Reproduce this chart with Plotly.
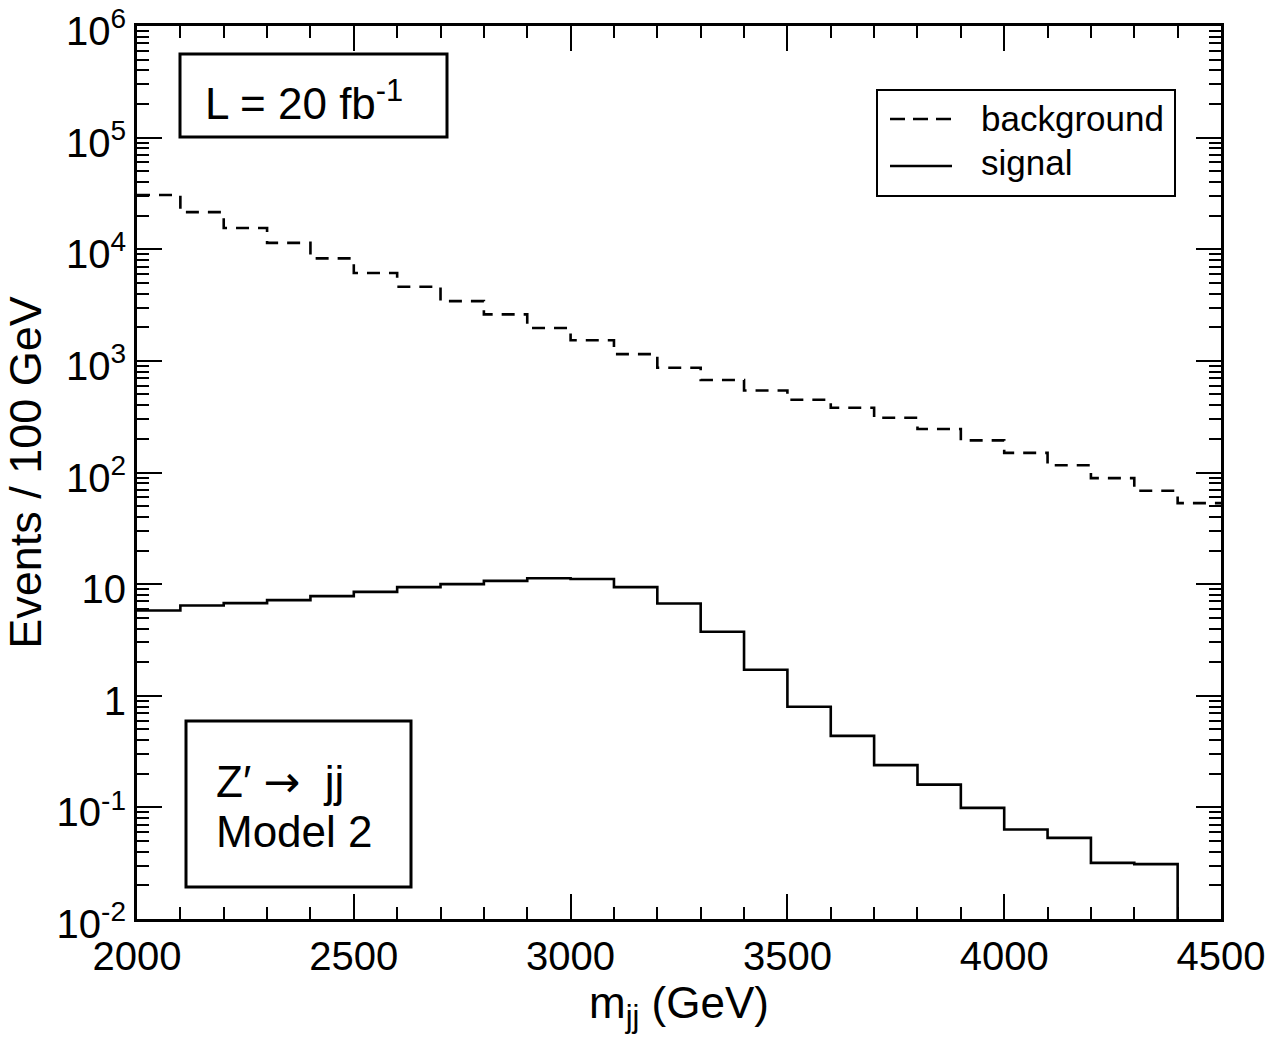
import plotly.graph_objects as go

# ---- data ----
bin_edges = list(range(2000, 4600, 100))  # 2000..4500
background = [30600, 21500, 15500, 11400, 8280, 6120, 4620, 3430, 2610, 1970,
              1530, 1150, 867, 673, 543, 449, 380, 309, 245, 194,
              150, 116, 89, 68.6, 53.2]
signal = [5.81, 6.44, 6.76, 7.19, 7.8, 8.53, 9.4, 10.0, 10.7, 11.3,
          11.1, 9.4, 6.7, 3.74, 1.71, 0.796, 0.437, 0.239, 0.160, 0.099,
          0.0634, 0.0533, 0.0318, 0.031, 0.0]
ytick_vals = [1e-2, 1e-1, 1, 10, 1e2, 1e3, 1e4, 1e5, 1e6]
ytick_text = ["10<sup>-2</sup>", "10<sup>-1</sup>", "1", "10", "10<sup>2</sup>",
              "10<sup>3</sup>", "10<sup>4</sup>", "10<sup>5</sup>", "10<sup>6</sup>"]
xtick_vals = [2000, 2500, 3000, 3500, 4000, 4500]

FONT = "Liberation Sans, Arial, Helvetica, sans-serif"
W, H = 1271, 1040
L0, R0, T0, B0 = 137, 1221, 26, 919


def px(x):
    return (x - L0) / (R0 - L0)


def py(y):
    return (B0 - y) / (B0 - T0)


floor = 1e-4
bg_y = background + [background[-1]]
sig_plot = [v if v > 0 else floor for v in signal]
sig_y = sig_plot + [sig_plot[-1]]

fig = go.Figure()
fig.add_trace(go.Scatter(x=bin_edges, y=bg_y, mode="lines", line_shape="hv",
                         name="background",
                         line=dict(color="black", width=2.6, dash="13px,9px"),
                         showlegend=False))
fig.add_trace(go.Scatter(x=bin_edges, y=sig_y, mode="lines", line_shape="hv",
                         name="signal",
                         line=dict(color="black", width=2.6),
                         showlegend=False))

minor_y = [m * 10 ** k for k in range(-2, 6) for m in range(2, 10)]

fig.update_layout(
    width=W, height=H,
    margin=dict(l=L0, r=W - R0, t=T0, b=H - B0, pad=0, autoexpand=False),
    paper_bgcolor="white", plot_bgcolor="white",
    font=dict(family=FONT, color="black"),
    xaxis=dict(
        range=[2000, 4500], tickmode="array", tickvals=xtick_vals,
        ticks="inside", ticklen=25, tickwidth=2, tickcolor="black",
        showline=True, linewidth=3, linecolor="black", mirror="allticks",
        showgrid=False, zeroline=False, ticklabeloverflow="allow", automargin=False,
        tickfont=dict(size=40, family=FONT),
        minor=dict(ticks="inside", ticklen=12, tickwidth=2, tickcolor="black",
                   dtick=100, showgrid=False),
        title=dict(text="m<sub>jj</sub> (GeV)", font=dict(size=44, family=FONT), standoff=0),
    ),
    yaxis=dict(
        type="log", range=[-2, 6], tickmode="array", tickvals=ytick_vals,
        ticktext=ytick_text,
        ticks="inside", ticklen=25, tickwidth=2, tickcolor="black",
        showline=True, linewidth=3, linecolor="black", mirror="allticks",
        showgrid=False, zeroline=False, ticklabeloverflow="allow", automargin=False,
        ticklabelshift=5,
        tickfont=dict(size=40, family=FONT),
        minor=dict(ticks="inside", ticklen=12, tickwidth=2, tickcolor="black",
                   tickmode="array", tickvals=minor_y, showgrid=False),
        title=dict(text="Events / 100 GeV", font=dict(size=45, family=FONT), standoff=12),
    ),
)

shapes = []
annotations = []
# L box
shapes.append(dict(type="rect", xref="paper", yref="paper",
                   x0=px(180), x1=px(447), y0=py(137), y1=py(54),
                   line=dict(color="black", width=3), fillcolor="rgba(0,0,0,0)"))
annotations.append(dict(xref="paper", yref="paper", x=px(203), y=py(100),
                        xanchor="left", yanchor="middle", showarrow=False,
                        text="L = 20 fb<sup>-1</sup>", font=dict(size=44, family=FONT)))
# Z' box
shapes.append(dict(type="rect", xref="paper", yref="paper",
                   x0=px(186), x1=px(411), y0=py(887), y1=py(721),
                   line=dict(color="black", width=3), fillcolor="rgba(0,0,0,0)"))
annotations.append(dict(xref="paper", yref="paper", x=px(214), y=py(781),
                        xanchor="left", yanchor="middle", showarrow=False,
                        text="Z′ <span style='font-family:DejaVu Sans'>→</span>  jj",
                        font=dict(size=44, family=FONT)))
annotations.append(dict(xref="paper", yref="paper", x=px(214), y=py(831),
                        xanchor="left", yanchor="middle", showarrow=False,
                        text="Model 2", font=dict(size=44, family=FONT)))
# legend box
shapes.append(dict(type="rect", xref="paper", yref="paper",
                   x0=px(877), x1=px(1175), y0=py(196), y1=py(90),
                   line=dict(color="black", width=2), fillcolor="white"))
shapes.append(dict(type="line", xref="paper", yref="paper",
                   x0=px(890), x1=px(952), y0=py(119), y1=py(119),
                   line=dict(color="black", width=2.6, dash="15px,8px")))
shapes.append(dict(type="line", xref="paper", yref="paper",
                   x0=px(890), x1=px(952), y0=py(166), y1=py(166),
                   line=dict(color="black", width=2.6)))
annotations.append(dict(xref="paper", yref="paper", x=px(979), y=py(118),
                        xanchor="left", yanchor="middle", showarrow=False,
                        text="background", font=dict(size=35, family=FONT)))
annotations.append(dict(xref="paper", yref="paper", x=px(979), y=py(163),
                        xanchor="left", yanchor="middle", showarrow=False,
                        text="signal", font=dict(size=35, family=FONT)))

fig.update_layout(shapes=shapes, annotations=annotations)
fig.write_html("out.html")
